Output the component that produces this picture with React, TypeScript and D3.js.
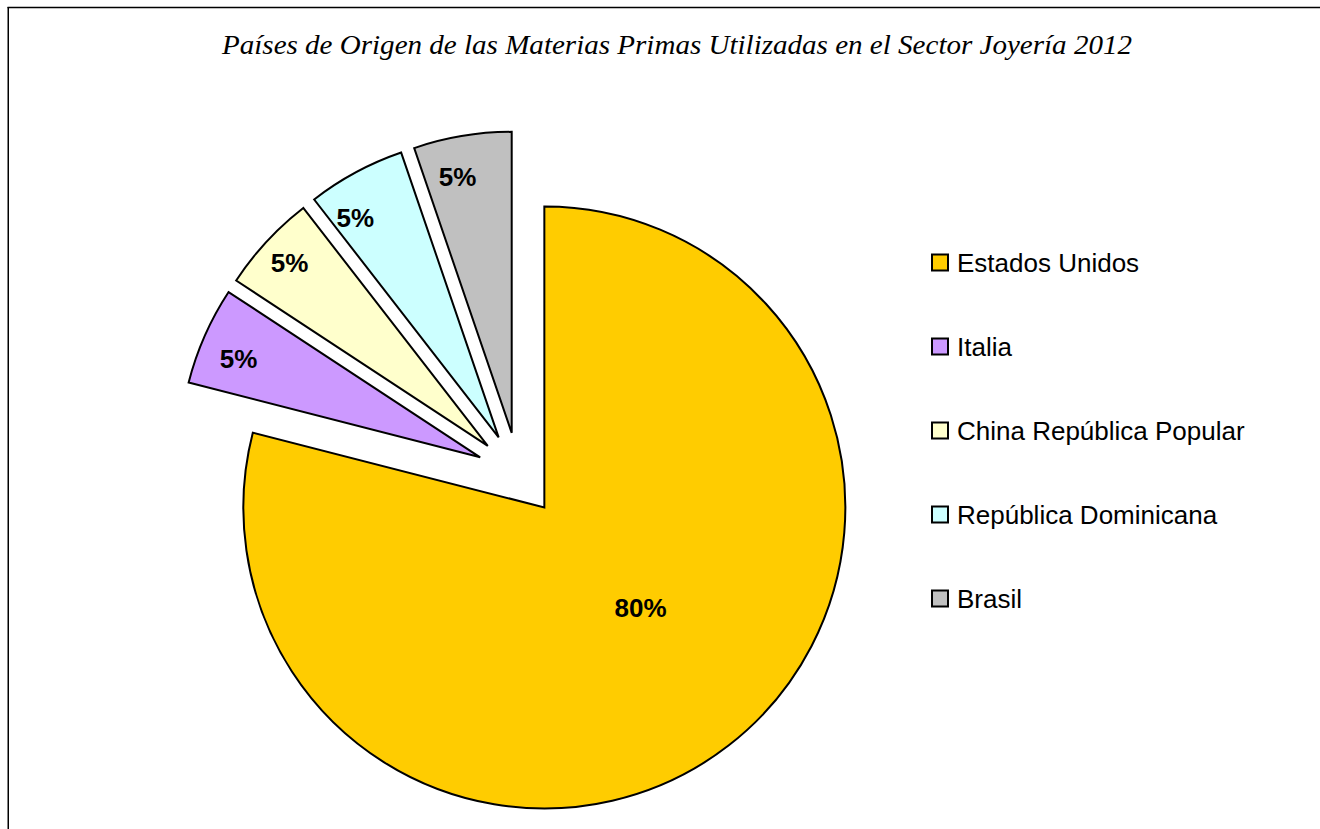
import React from "react";
import * as d3 from "d3";

const title = "Países de Origen de las Materias Primas Utilizadas en el Sector Joyería 2012";
const categories = ["Estados Unidos", "Italia", "China República Popular", "República Dominicana", "Brasil"];
const shares = [79, 5.25, 5.25, 5.25, 5.25];
const valueLabels = ["80%", "5%", "5%", "5%", "5%"];
const colors = ["#FFCC00", "#CC99FF", "#FFFFCC", "#CCFFFF", "#C0C0C0"];

// layout (page coordinates)
const W = 1320;
const H = 829;
const CX = 518.6;
const CY = 474.3;
const R = 301;
const EXPLODE = 42;
const labelRadius = [139, 261, 270, 262, 262];
const labelNudgeDeg = [-6, -1.6, 0, -4.8, -2.5];

export default function App() {
  const pie = d3.pie<number>().sort(null).value((d) => d).startAngle(0).endAngle(2 * Math.PI);
  const arcs = pie(shares);
  const arcGen = d3.arc<d3.PieArcDatum<number>>().innerRadius(0).outerRadius(R);

  return (
    <svg width={W} height={H} style={{ display: "block", position: "fixed", left: 0, top: 0 }}>
      <rect x={0} y={0} width={W} height={H} fill="#fff" />
      <line x1={8.25} y1={7} x2={8.25} y2={H} stroke="#000" strokeWidth={1.5} />
      <line x1={7.5} y1={7.5} x2={W} y2={7.5} stroke="#000" strokeWidth={1.5} />
      <text
        x={677}
        y={53.5}
        textAnchor="middle"
        fontFamily="'Liberation Serif', 'Times New Roman', serif"
        fontStyle="italic"
        fontSize={28}
        textLength={910}
        lengthAdjust="spacingAndGlyphs"
        fill="#000"
      >
        {title}
      </text>
      <g transform={`translate(${CX},${CY})`}>
        {arcs.map((a, i) => {
          const mid = (a.startAngle + a.endAngle) / 2;
          const ox = EXPLODE * Math.sin(mid);
          const oy = -EXPLODE * Math.cos(mid);
          const la = mid + (labelNudgeDeg[i] * Math.PI) / 180;
          const lx = ox + labelRadius[i] * Math.sin(la);
          const ly = oy - labelRadius[i] * Math.cos(la);
          return (
            <g key={i}>
              <path
                d={arcGen(a) || ""}
                transform={`translate(${ox},${oy})`}
                fill={colors[i]}
                stroke="#000"
                strokeWidth={2}
                strokeLinejoin="miter"
              />
              <text
                x={lx}
                y={ly}
                dy="0.36em"
                textAnchor="middle"
                fontFamily="'Liberation Sans', Arial, sans-serif"
                fontWeight="bold"
                fontSize={26}
                fill="#000"
              >
                {valueLabels[i]}
              </text>
            </g>
          );
        })}
      </g>
      <g>
        {categories.map((c, i) => (
          <g key={c} transform={`translate(932,${254.5 + i * 84})`}>
            <rect x={0} y={0} width={16} height={16} fill={colors[i]} stroke="#000" strokeWidth={2} />
            <text
              x={25}
              y={17.5}
              fontFamily="'Liberation Sans', Arial, sans-serif"
              fontSize={26}
              fill="#000"
            >
              {c}
            </text>
          </g>
        ))}
      </g>
    </svg>
  );
}
